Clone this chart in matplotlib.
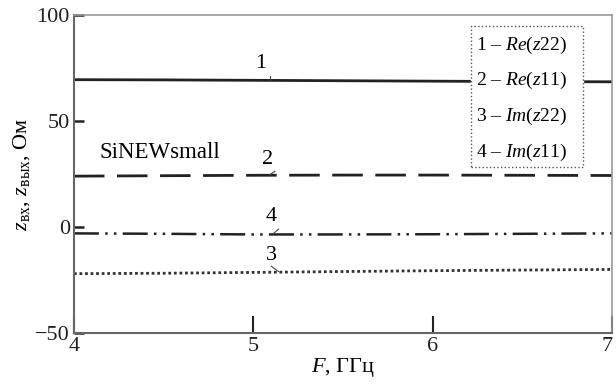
import matplotlib
matplotlib.use("Agg")
import matplotlib.pyplot as plt

plt.rcParams['font.family'] = ['Liberation Serif', 'DejaVu Serif']
plt.rcParams['mathtext.fontset'] = 'custom'
plt.rcParams['mathtext.rm'] = 'Liberation Serif'
plt.rcParams['mathtext.it'] = 'Liberation Serif:italic'

freq = [4.0, 4.5, 5.0, 5.5, 6.0, 6.5, 7.0]
re_z22 = [69.5, 69.4, 69.2, 69.0, 68.8, 68.6, 68.5]   # 1
re_z11 = [24.0, 24.2, 24.4, 24.5, 24.5, 24.4, 24.3]   # 2
im_z22 = [-22.0, -21.8, -21.4, -21.0, -20.6, -20.3, -20.0]  # 3
im_z11 = [-3.0, -3.2, -3.5, -3.5, -3.4, -3.2, -3.0]   # 4

legend_lines = ["1 – $Re$($z$22)", "2 – $Re$($z$11)", "3 – $Im$($z$22)", "4 – $Im$($z$11)"]
xticks = [4, 5, 6, 7]
yticks = [-50, 0, 50, 100]

fig = plt.figure(figsize=(6.16, 3.85), dpi=100)
ax = fig.add_axes([0.120, 0.135, 0.874, 0.826])

ax.plot(freq, re_z22, color='#222222', lw=2.0, solid_capstyle='butt')
ax.plot(freq, re_z11, color='#222222', lw=2.0, dashes=(11, 4.5))
ax.plot(freq, im_z11, color='#222222', lw=1.8, dashes=(10, 2.5, 1, 2.5, 1, 2.5))
ax.plot(freq, im_z22, color='#333333', lw=2.0, dashes=(1, 1))

ax.set_xlim(4, 7)
ax.set_ylim(-50, 100)
ax.set_xticks(xticks)
ax.set_yticks(yticks)
ax.tick_params(axis='x', direction='in', length=12, width=1.5, labelsize=16, pad=3, colors='#222222')
ax.tick_params(axis='y', direction='in', length=7, width=1.8, labelsize=16, pad=3, colors='#222222')
ax.get_xticklabels()[-1].set_horizontalalignment('right')

for s in ['left', 'bottom']:
    ax.spines[s].set_color('#666666')
    ax.spines[s].set_linewidth(1.5)
for s in ['top', 'right']:
    ax.spines[s].set_color('#999999')
    ax.spines[s].set_linewidth(1.2)

ax.set_xlabel("$F$, ГГц", fontsize=16, labelpad=0)
ax.set_ylabel("$z$$_{\\mathrm{вх}}$, $z$$_{\\mathrm{вых}}$, Ом", fontsize=16, labelpad=2)

# curve labels with small leaders
ax.text(5.04, 72.5, "1", fontsize=16, ha='center', va='bottom')
ax.plot([5.09, 5.09], [69.3, 71.0], color='#444444', lw=0.8)
ax.text(5.08, 27.5, "2", fontsize=16, ha='center', va='bottom')
ax.plot([5.09, 5.12], [24.6, 26.3], color='#444444', lw=0.8)
ax.text(5.1, 0.5, "4", fontsize=16, ha='center', va='bottom')
ax.plot([5.11, 5.14], [-3.2, -1.0], color='#444444', lw=0.8)
ax.text(5.1, -18.0, "3", fontsize=16, ha='center', va='bottom')
ax.plot([5.1, 5.14], [-18.5, -21.0], color='#444444', lw=0.8)

ax.text(4.145, 35.0, "SiNEWsmall", fontsize=16.5, ha='left', va='center')

# legend box
lx0, lx1 = 6.213, 6.838
ly0, ly1 = 28.3, 94.8
ax.fill([lx0, lx1, lx1, lx0], [ly0, ly0, ly1, ly1], color='white', zorder=5)
ax.plot([lx0, lx1, lx1, lx0, lx0], [ly0, ly0, ly1, ly1, ly0], color='#555555',
        lw=1.0, ls=':', zorder=6)
for i, t in enumerate(legend_lines):
    ax.text(lx0 + 0.03, 85.8 - i * 16.8, t, fontsize=14, ha='left', va='center', zorder=7)

fig.savefig("out.png", dpi=100)
